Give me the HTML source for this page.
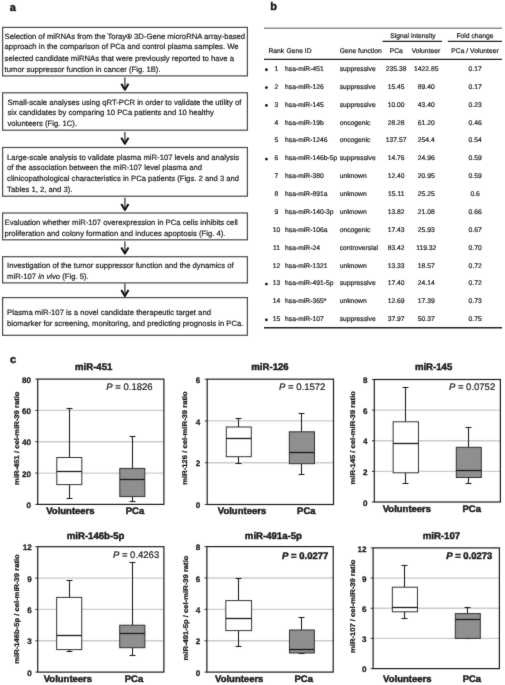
<!DOCTYPE html>
<html><head><meta charset="utf-8"><style>
html,body{margin:0;padding:0;background:#fff;}
svg{display:block;font-family:"Liberation Sans", sans-serif;will-change:transform;text-rendering:geometricPrecision;}
text{stroke:#1a1a1a;stroke-width:0.2px;paint-order:stroke;}
text[font-weight="bold"]{stroke-width:0.45px;}
text.tk{stroke-width:0.25px;}
text.yl{stroke-width:0.3px;}
</style></head><body>
<svg width="505" height="685" viewBox="0 0 505 685">
<defs><filter id="soft" x="0" y="0" width="100%" height="100%" color-interpolation-filters="sRGB"><feConvolveMatrix order="3" kernelMatrix="0.0188 0.0563 0.0188 0.0563 0.7000 0.0563 0.0188 0.0563 0.0188" divisor="1" edgeMode="duplicate"/></filter></defs><g filter="url(#soft)">
<rect width="505" height="685" fill="#fff"/>
<text x="9.70" y="10.80" font-size="11.0" font-weight="bold" text-anchor="start" fill="#1a1a1a">a</text>
<text x="270.30" y="10.40" font-size="11.0" font-weight="bold" text-anchor="start" fill="#1a1a1a">b</text>
<text x="9.90" y="362.80" font-size="11.0" font-weight="bold" text-anchor="start" fill="#1a1a1a">c</text>
<rect x="2.60" y="27.40" width="244.80" height="48.50" fill="none" stroke="#4a4a4a" stroke-width="1.2"/>
<text x="4.60" y="38.50" font-size="7.7" text-anchor="start" fill="#1a1a1a">Selection of miRNAs from the Toray® 3D-Gene microRNA array-based</text>
<text x="4.60" y="49.40" font-size="7.7" text-anchor="start" fill="#1a1a1a">approach in the comparison of PCa and control plasma samples. We</text>
<text x="4.60" y="60.50" font-size="7.7" text-anchor="start" fill="#1a1a1a">selected candidate miRNAs that were previously reported to have a</text>
<text x="4.60" y="71.60" font-size="7.7" text-anchor="start" fill="#1a1a1a">tumor suppressor function in cancer (Fig. 1B).</text>
<rect x="2.60" y="92.80" width="244.80" height="37.40" fill="none" stroke="#4a4a4a" stroke-width="1.2"/>
<text x="7.40" y="104.60" font-size="7.7" text-anchor="start" fill="#1a1a1a">Small-scale analyses using qRT-PCR in order to validate the utility of</text>
<text x="7.40" y="115.30" font-size="7.7" text-anchor="start" fill="#1a1a1a">six candidates by comparing 10 PCa patients and 10 healthy</text>
<text x="7.40" y="126.10" font-size="7.7" text-anchor="start" fill="#1a1a1a">volunteers (Fig. 1C).</text>
<rect x="2.60" y="147.50" width="244.80" height="48.70" fill="none" stroke="#4a4a4a" stroke-width="1.2"/>
<text x="7.10" y="159.50" font-size="7.7" text-anchor="start" fill="#1a1a1a">Large-scale analysis to validate plasma miR-107 levels and analysis</text>
<text x="7.10" y="170.10" font-size="7.7" text-anchor="start" fill="#1a1a1a">of the association between the miR-107 level plasma and</text>
<text x="7.10" y="180.90" font-size="7.7" text-anchor="start" fill="#1a1a1a">clinicopathological characteristics in PCa patients (Figs. 2 and 3 and</text>
<text x="7.10" y="191.50" font-size="7.7" text-anchor="start" fill="#1a1a1a">Tables 1, 2, and 3).</text>
<rect x="2.60" y="213.00" width="244.80" height="26.80" fill="none" stroke="#4a4a4a" stroke-width="1.2"/>
<text x="4.50" y="225.40" font-size="7.7" text-anchor="start" fill="#1a1a1a">Evaluation whether miR-107 overexpression in PCa cells inhibits cell</text>
<text x="4.50" y="235.80" font-size="7.7" text-anchor="start" fill="#1a1a1a">proliferation and colony formation and induces apoptosis (Fig. 4).</text>
<rect x="2.60" y="256.70" width="244.80" height="26.20" fill="none" stroke="#4a4a4a" stroke-width="1.2"/>
<text x="7.10" y="268.20" font-size="7.7" text-anchor="start" fill="#1a1a1a">Investigation of the tumor suppressor function and the dynamics of</text>
<text x="7.10" y="278.50" font-size="7.7" text-anchor="start" fill="#1a1a1a">miR-107 <tspan font-style="italic">in vivo</tspan> (Fig. 5).</text>
<rect x="2.60" y="297.60" width="244.80" height="37.70" fill="none" stroke="#4a4a4a" stroke-width="1.2"/>
<text x="7.10" y="315.10" font-size="7.7" text-anchor="start" fill="#1a1a1a">Plasma miR-107 is a novel candidate therapeutic target and</text>
<text x="7.10" y="325.70" font-size="7.7" text-anchor="start" fill="#1a1a1a">biomarker for screening, monitoring, and predicting prognosis in PCa.</text>
<line x1="124.90" y1="77.60" x2="124.90" y2="88.70" stroke="#555" stroke-width="1.5"/>
<polyline points="121.30,83.70 124.90,89.70 128.50,83.70" fill="none" stroke="#111" stroke-width="2.0" stroke-linejoin="round" stroke-linecap="butt"/>
<line x1="124.90" y1="131.90" x2="124.90" y2="142.80" stroke="#555" stroke-width="1.5"/>
<polyline points="121.30,137.80 124.90,143.80 128.50,137.80" fill="none" stroke="#111" stroke-width="2.0" stroke-linejoin="round" stroke-linecap="butt"/>
<line x1="124.90" y1="197.80" x2="124.90" y2="209.00" stroke="#555" stroke-width="1.5"/>
<polyline points="121.30,204.00 124.90,210.00 128.50,204.00" fill="none" stroke="#111" stroke-width="2.0" stroke-linejoin="round" stroke-linecap="butt"/>
<line x1="124.90" y1="241.40" x2="124.90" y2="252.50" stroke="#555" stroke-width="1.5"/>
<polyline points="121.30,247.50 124.90,253.50 128.50,247.50" fill="none" stroke="#111" stroke-width="2.0" stroke-linejoin="round" stroke-linecap="butt"/>
<line x1="124.90" y1="283.60" x2="124.90" y2="295.00" stroke="#555" stroke-width="1.5"/>
<polyline points="121.30,290.00 124.90,296.00 128.50,290.00" fill="none" stroke="#111" stroke-width="2.0" stroke-linejoin="round" stroke-linecap="butt"/>
<line x1="264.00" y1="28.20" x2="502.00" y2="28.20" stroke="#555" stroke-width="1.0"/>
<text x="413.00" y="38.00" font-size="6.75" text-anchor="middle" fill="#1a1a1a">Signal intensity</text>
<text x="475.00" y="38.00" font-size="6.75" text-anchor="middle" fill="#1a1a1a">Fold change</text>
<line x1="382.50" y1="41.40" x2="442.00" y2="41.40" stroke="#222" stroke-width="1.2"/>
<line x1="447.80" y1="41.40" x2="502.00" y2="41.40" stroke="#222" stroke-width="1.2"/>
<text x="268.40" y="52.70" font-size="6.75" text-anchor="start" fill="#1a1a1a">Rank</text>
<text x="286.40" y="52.70" font-size="6.75" text-anchor="start" fill="#1a1a1a">Gene ID</text>
<text x="339.70" y="52.70" font-size="6.75" text-anchor="start" fill="#1a1a1a">Gene function</text>
<text x="396.20" y="52.70" font-size="6.75" text-anchor="middle" fill="#1a1a1a">PCa</text>
<text x="426.00" y="52.70" font-size="6.75" text-anchor="middle" fill="#1a1a1a">Volunteer</text>
<text x="475.00" y="52.70" font-size="6.75" text-anchor="middle" fill="#1a1a1a">PCa / Volunteer</text>
<line x1="264.00" y1="59.30" x2="502.00" y2="59.30" stroke="#222" stroke-width="1.3"/>
<circle cx="266.4" cy="69.75" r="1.4" fill="#111"/>
<text x="276.40" y="71.05" font-size="6.75" text-anchor="middle" fill="#1a1a1a">1</text>
<text x="285.00" y="71.05" font-size="6.75" text-anchor="start" fill="#1a1a1a">hsa-miR-451</text>
<text x="339.70" y="71.05" font-size="6.75" text-anchor="start" fill="#1a1a1a">suppressive</text>
<text x="396.20" y="71.05" font-size="6.75" text-anchor="middle" fill="#1a1a1a">235.38</text>
<text x="426.30" y="71.05" font-size="6.75" text-anchor="middle" fill="#1a1a1a">1422.85</text>
<text x="475.10" y="71.05" font-size="6.75" text-anchor="middle" fill="#1a1a1a">0.17</text>
<circle cx="266.4" cy="87.61" r="1.4" fill="#111"/>
<text x="276.40" y="88.91" font-size="6.75" text-anchor="middle" fill="#1a1a1a">2</text>
<text x="285.00" y="88.91" font-size="6.75" text-anchor="start" fill="#1a1a1a">hsa-miR-126</text>
<text x="339.70" y="88.91" font-size="6.75" text-anchor="start" fill="#1a1a1a">suppressive</text>
<text x="396.20" y="88.91" font-size="6.75" text-anchor="middle" fill="#1a1a1a">15.45</text>
<text x="426.30" y="88.91" font-size="6.75" text-anchor="middle" fill="#1a1a1a">89.40</text>
<text x="475.10" y="88.91" font-size="6.75" text-anchor="middle" fill="#1a1a1a">0.17</text>
<circle cx="266.4" cy="105.47" r="1.4" fill="#111"/>
<text x="276.40" y="106.77" font-size="6.75" text-anchor="middle" fill="#1a1a1a">3</text>
<text x="285.00" y="106.77" font-size="6.75" text-anchor="start" fill="#1a1a1a">hsa-miR-145</text>
<text x="339.70" y="106.77" font-size="6.75" text-anchor="start" fill="#1a1a1a">suppressive</text>
<text x="396.20" y="106.77" font-size="6.75" text-anchor="middle" fill="#1a1a1a">10.00</text>
<text x="426.30" y="106.77" font-size="6.75" text-anchor="middle" fill="#1a1a1a">43.40</text>
<text x="475.10" y="106.77" font-size="6.75" text-anchor="middle" fill="#1a1a1a">0.23</text>
<text x="276.40" y="124.63" font-size="6.75" text-anchor="middle" fill="#1a1a1a">4</text>
<text x="285.00" y="124.63" font-size="6.75" text-anchor="start" fill="#1a1a1a">hsa-miR-19b</text>
<text x="339.70" y="124.63" font-size="6.75" text-anchor="start" fill="#1a1a1a">oncogenic</text>
<text x="396.20" y="124.63" font-size="6.75" text-anchor="middle" fill="#1a1a1a">28.28</text>
<text x="426.30" y="124.63" font-size="6.75" text-anchor="middle" fill="#1a1a1a">61.20</text>
<text x="475.10" y="124.63" font-size="6.75" text-anchor="middle" fill="#1a1a1a">0.46</text>
<text x="276.40" y="142.49" font-size="6.75" text-anchor="middle" fill="#1a1a1a">5</text>
<text x="285.00" y="142.49" font-size="6.75" text-anchor="start" fill="#1a1a1a">hsa-miR-1246</text>
<text x="339.70" y="142.49" font-size="6.75" text-anchor="start" fill="#1a1a1a">oncogenic</text>
<text x="396.20" y="142.49" font-size="6.75" text-anchor="middle" fill="#1a1a1a">137.57</text>
<text x="426.30" y="142.49" font-size="6.75" text-anchor="middle" fill="#1a1a1a">254.4</text>
<text x="475.10" y="142.49" font-size="6.75" text-anchor="middle" fill="#1a1a1a">0.54</text>
<circle cx="266.4" cy="159.05" r="1.4" fill="#111"/>
<text x="276.40" y="160.35" font-size="6.75" text-anchor="middle" fill="#1a1a1a">6</text>
<text x="285.00" y="160.35" font-size="6.75" text-anchor="start" fill="#1a1a1a">hsa-miR-146b-5p</text>
<text x="339.70" y="160.35" font-size="6.75" text-anchor="start" fill="#1a1a1a">suppressive</text>
<text x="396.20" y="160.35" font-size="6.75" text-anchor="middle" fill="#1a1a1a">14.76</text>
<text x="426.30" y="160.35" font-size="6.75" text-anchor="middle" fill="#1a1a1a">24.96</text>
<text x="475.10" y="160.35" font-size="6.75" text-anchor="middle" fill="#1a1a1a">0.59</text>
<text x="276.40" y="178.21" font-size="6.75" text-anchor="middle" fill="#1a1a1a">7</text>
<text x="285.00" y="178.21" font-size="6.75" text-anchor="start" fill="#1a1a1a">hsa-miR-380</text>
<text x="339.70" y="178.21" font-size="6.75" text-anchor="start" fill="#1a1a1a">unknown</text>
<text x="396.20" y="178.21" font-size="6.75" text-anchor="middle" fill="#1a1a1a">12.40</text>
<text x="426.30" y="178.21" font-size="6.75" text-anchor="middle" fill="#1a1a1a">20.95</text>
<text x="475.10" y="178.21" font-size="6.75" text-anchor="middle" fill="#1a1a1a">0.59</text>
<text x="276.40" y="196.07" font-size="6.75" text-anchor="middle" fill="#1a1a1a">8</text>
<text x="285.00" y="196.07" font-size="6.75" text-anchor="start" fill="#1a1a1a">hsa-miR-891a</text>
<text x="339.70" y="196.07" font-size="6.75" text-anchor="start" fill="#1a1a1a">unknown</text>
<text x="396.20" y="196.07" font-size="6.75" text-anchor="middle" fill="#1a1a1a">15.11</text>
<text x="426.30" y="196.07" font-size="6.75" text-anchor="middle" fill="#1a1a1a">25.25</text>
<text x="475.10" y="196.07" font-size="6.75" text-anchor="middle" fill="#1a1a1a">0.6</text>
<text x="276.40" y="213.93" font-size="6.75" text-anchor="middle" fill="#1a1a1a">9</text>
<text x="285.00" y="213.93" font-size="6.75" text-anchor="start" fill="#1a1a1a">hsa-miR-140-3p</text>
<text x="339.70" y="213.93" font-size="6.75" text-anchor="start" fill="#1a1a1a">unknown</text>
<text x="396.20" y="213.93" font-size="6.75" text-anchor="middle" fill="#1a1a1a">13.82</text>
<text x="426.30" y="213.93" font-size="6.75" text-anchor="middle" fill="#1a1a1a">21.08</text>
<text x="475.10" y="213.93" font-size="6.75" text-anchor="middle" fill="#1a1a1a">0.66</text>
<text x="276.40" y="231.79" font-size="6.75" text-anchor="middle" fill="#1a1a1a">10</text>
<text x="285.00" y="231.79" font-size="6.75" text-anchor="start" fill="#1a1a1a">hsa-miR-106a</text>
<text x="339.70" y="231.79" font-size="6.75" text-anchor="start" fill="#1a1a1a">oncogenic</text>
<text x="396.20" y="231.79" font-size="6.75" text-anchor="middle" fill="#1a1a1a">17.43</text>
<text x="426.30" y="231.79" font-size="6.75" text-anchor="middle" fill="#1a1a1a">25.93</text>
<text x="475.10" y="231.79" font-size="6.75" text-anchor="middle" fill="#1a1a1a">0.67</text>
<text x="276.40" y="249.65" font-size="6.75" text-anchor="middle" fill="#1a1a1a">11</text>
<text x="285.00" y="249.65" font-size="6.75" text-anchor="start" fill="#1a1a1a">hsa-miR-24</text>
<text x="339.70" y="249.65" font-size="6.75" text-anchor="start" fill="#1a1a1a">controversial</text>
<text x="396.20" y="249.65" font-size="6.75" text-anchor="middle" fill="#1a1a1a">83.42</text>
<text x="426.30" y="249.65" font-size="6.75" text-anchor="middle" fill="#1a1a1a">119.32</text>
<text x="475.10" y="249.65" font-size="6.75" text-anchor="middle" fill="#1a1a1a">0.70</text>
<text x="276.40" y="267.51" font-size="6.75" text-anchor="middle" fill="#1a1a1a">12</text>
<text x="285.00" y="267.51" font-size="6.75" text-anchor="start" fill="#1a1a1a">hsa-miR-1321</text>
<text x="339.70" y="267.51" font-size="6.75" text-anchor="start" fill="#1a1a1a">unknown</text>
<text x="396.20" y="267.51" font-size="6.75" text-anchor="middle" fill="#1a1a1a">13.33</text>
<text x="426.30" y="267.51" font-size="6.75" text-anchor="middle" fill="#1a1a1a">18.57</text>
<text x="475.10" y="267.51" font-size="6.75" text-anchor="middle" fill="#1a1a1a">0.72</text>
<circle cx="266.4" cy="284.07" r="1.4" fill="#111"/>
<text x="276.40" y="285.37" font-size="6.75" text-anchor="middle" fill="#1a1a1a">13</text>
<text x="285.00" y="285.37" font-size="6.75" text-anchor="start" fill="#1a1a1a">hsa-miR-491-5p</text>
<text x="339.70" y="285.37" font-size="6.75" text-anchor="start" fill="#1a1a1a">suppressive</text>
<text x="396.20" y="285.37" font-size="6.75" text-anchor="middle" fill="#1a1a1a">17.40</text>
<text x="426.30" y="285.37" font-size="6.75" text-anchor="middle" fill="#1a1a1a">24.14</text>
<text x="475.10" y="285.37" font-size="6.75" text-anchor="middle" fill="#1a1a1a">0.72</text>
<text x="276.40" y="303.23" font-size="6.75" text-anchor="middle" fill="#1a1a1a">14</text>
<text x="285.00" y="303.23" font-size="6.75" text-anchor="start" fill="#1a1a1a">hsa-miR-365*</text>
<text x="339.70" y="303.23" font-size="6.75" text-anchor="start" fill="#1a1a1a">unknown</text>
<text x="396.20" y="303.23" font-size="6.75" text-anchor="middle" fill="#1a1a1a">12.69</text>
<text x="426.30" y="303.23" font-size="6.75" text-anchor="middle" fill="#1a1a1a">17.39</text>
<text x="475.10" y="303.23" font-size="6.75" text-anchor="middle" fill="#1a1a1a">0.73</text>
<circle cx="266.4" cy="319.79" r="1.4" fill="#111"/>
<text x="276.40" y="321.09" font-size="6.75" text-anchor="middle" fill="#1a1a1a">15</text>
<text x="285.00" y="321.09" font-size="6.75" text-anchor="start" fill="#1a1a1a">hsa-miR-107</text>
<text x="339.70" y="321.09" font-size="6.75" text-anchor="start" fill="#1a1a1a">suppressive</text>
<text x="396.20" y="321.09" font-size="6.75" text-anchor="middle" fill="#1a1a1a">37.97</text>
<text x="426.30" y="321.09" font-size="6.75" text-anchor="middle" fill="#1a1a1a">50.37</text>
<text x="475.10" y="321.09" font-size="6.75" text-anchor="middle" fill="#1a1a1a">0.75</text>
<line x1="264.00" y1="327.70" x2="502.00" y2="327.70" stroke="#222" stroke-width="1.4"/>
<line x1="37.70" y1="473.07" x2="163.90" y2="473.07" stroke="#cbcbcb" stroke-width="1.3"/>
<line x1="37.70" y1="441.75" x2="163.90" y2="441.75" stroke="#cbcbcb" stroke-width="1.3"/>
<line x1="37.70" y1="410.43" x2="163.90" y2="410.43" stroke="#cbcbcb" stroke-width="1.3"/>
<line x1="35.30" y1="504.40" x2="37.70" y2="504.40" stroke="#333" stroke-width="1.0"/>
<text x="31.00" y="508.05" font-size="8.1" font-weight="bold" text-anchor="end" fill="#1a1a1a" class="tk">0</text>
<line x1="35.30" y1="473.07" x2="37.70" y2="473.07" stroke="#333" stroke-width="1.0"/>
<text x="31.00" y="476.72" font-size="8.1" font-weight="bold" text-anchor="end" fill="#1a1a1a" class="tk">20</text>
<line x1="35.30" y1="441.75" x2="37.70" y2="441.75" stroke="#333" stroke-width="1.0"/>
<text x="31.00" y="445.40" font-size="8.1" font-weight="bold" text-anchor="end" fill="#1a1a1a" class="tk">40</text>
<line x1="35.30" y1="410.43" x2="37.70" y2="410.43" stroke="#333" stroke-width="1.0"/>
<text x="31.00" y="414.07" font-size="8.1" font-weight="bold" text-anchor="end" fill="#1a1a1a" class="tk">60</text>
<line x1="35.30" y1="379.10" x2="37.70" y2="379.10" stroke="#333" stroke-width="1.0"/>
<text x="31.00" y="382.75" font-size="8.1" font-weight="bold" text-anchor="end" fill="#1a1a1a" class="tk">80</text>
<line x1="69.50" y1="408.50" x2="69.50" y2="457.50" stroke="#222" stroke-width="1.1"/>
<line x1="69.50" y1="484.60" x2="69.50" y2="498.50" stroke="#222" stroke-width="1.1"/>
<line x1="66.50" y1="408.50" x2="72.50" y2="408.50" stroke="#222" stroke-width="1.1"/>
<line x1="66.50" y1="498.50" x2="72.50" y2="498.50" stroke="#222" stroke-width="1.1"/>
<rect x="56.80" y="457.50" width="25.00" height="27.10" fill="#ffffff" stroke="#333" stroke-width="1.0"/>
<line x1="56.80" y1="471.50" x2="81.80" y2="471.50" stroke="#1a1a1a" stroke-width="1.3"/>
<line x1="132.50" y1="436.50" x2="132.50" y2="468.40" stroke="#222" stroke-width="1.1"/>
<line x1="132.50" y1="496.60" x2="132.50" y2="501.50" stroke="#222" stroke-width="1.1"/>
<line x1="129.50" y1="436.50" x2="135.50" y2="436.50" stroke="#222" stroke-width="1.1"/>
<line x1="129.50" y1="501.50" x2="135.50" y2="501.50" stroke="#222" stroke-width="1.1"/>
<rect x="119.80" y="468.40" width="25.00" height="28.20" fill="#8f8f8f" stroke="#333" stroke-width="1.0"/>
<line x1="119.80" y1="479.50" x2="144.80" y2="479.50" stroke="#1a1a1a" stroke-width="1.3"/>
<rect x="37.70" y="379.10" width="126.20" height="125.30" fill="none" stroke="#1c1c1c" stroke-width="1.2"/>
<text x="93.70" y="369.80" font-size="9.6" font-weight="bold" text-anchor="middle" fill="#1a1a1a">miR-451</text>
<text class="yl" x="0" y="0" font-size="7.65" font-weight="bold" text-anchor="middle" fill="#1a1a1a" transform="translate(19.40,438.20) rotate(-90) scale(1,0.9)">miR-451 / cel-miR-39 ratio</text>
<text x="152.60" y="390.10" font-size="9.5" text-anchor="end" fill="#1a1a1a"><tspan font-style="italic">P</tspan> = 0.1826</text>
<text x="70.40" y="513.60" font-size="9.5" font-weight="bold" text-anchor="middle" fill="#1a1a1a">Volunteers</text>
<text x="135.00" y="513.60" font-size="9.5" font-weight="bold" text-anchor="middle" fill="#1a1a1a">PCa</text>
<line x1="207.20" y1="462.73" x2="333.50" y2="462.73" stroke="#cbcbcb" stroke-width="1.3"/>
<line x1="207.20" y1="420.97" x2="333.50" y2="420.97" stroke="#cbcbcb" stroke-width="1.3"/>
<line x1="204.80" y1="504.50" x2="207.20" y2="504.50" stroke="#333" stroke-width="1.0"/>
<text x="200.20" y="508.15" font-size="8.1" font-weight="bold" text-anchor="end" fill="#1a1a1a" class="tk">0</text>
<line x1="204.80" y1="462.73" x2="207.20" y2="462.73" stroke="#333" stroke-width="1.0"/>
<text x="200.20" y="466.38" font-size="8.1" font-weight="bold" text-anchor="end" fill="#1a1a1a" class="tk">2</text>
<line x1="204.80" y1="420.97" x2="207.20" y2="420.97" stroke="#333" stroke-width="1.0"/>
<text x="200.20" y="424.62" font-size="8.1" font-weight="bold" text-anchor="end" fill="#1a1a1a" class="tk">4</text>
<line x1="204.80" y1="379.20" x2="207.20" y2="379.20" stroke="#333" stroke-width="1.0"/>
<text x="200.20" y="382.85" font-size="8.1" font-weight="bold" text-anchor="end" fill="#1a1a1a" class="tk">6</text>
<line x1="238.50" y1="418.50" x2="238.50" y2="427.00" stroke="#222" stroke-width="1.1"/>
<line x1="238.50" y1="456.70" x2="238.50" y2="463.50" stroke="#222" stroke-width="1.1"/>
<line x1="235.50" y1="418.50" x2="241.50" y2="418.50" stroke="#222" stroke-width="1.1"/>
<line x1="235.50" y1="463.50" x2="241.50" y2="463.50" stroke="#222" stroke-width="1.1"/>
<rect x="226.30" y="427.00" width="25.00" height="29.70" fill="#ffffff" stroke="#333" stroke-width="1.0"/>
<line x1="226.30" y1="438.50" x2="251.30" y2="438.50" stroke="#1a1a1a" stroke-width="1.3"/>
<line x1="301.50" y1="413.50" x2="301.50" y2="431.80" stroke="#222" stroke-width="1.1"/>
<line x1="301.50" y1="463.70" x2="301.50" y2="474.50" stroke="#222" stroke-width="1.1"/>
<line x1="298.50" y1="413.50" x2="304.50" y2="413.50" stroke="#222" stroke-width="1.1"/>
<line x1="298.50" y1="474.50" x2="304.50" y2="474.50" stroke="#222" stroke-width="1.1"/>
<rect x="289.30" y="431.80" width="25.20" height="31.90" fill="#8f8f8f" stroke="#333" stroke-width="1.0"/>
<line x1="289.30" y1="452.50" x2="314.50" y2="452.50" stroke="#1a1a1a" stroke-width="1.3"/>
<rect x="207.20" y="379.20" width="126.30" height="125.30" fill="none" stroke="#1c1c1c" stroke-width="1.2"/>
<text x="270.00" y="369.70" font-size="9.6" font-weight="bold" text-anchor="middle" fill="#1a1a1a">miR-126</text>
<text class="yl" x="0" y="0" font-size="7.65" font-weight="bold" text-anchor="middle" fill="#1a1a1a" transform="translate(187.40,438.00) rotate(-90) scale(1,0.9)">miR-126 / cel-miR-39 ratio</text>
<text x="325.30" y="390.20" font-size="9.5" text-anchor="end" fill="#1a1a1a"><tspan font-style="italic">P</tspan> = 0.1572</text>
<text x="242.00" y="513.60" font-size="9.5" font-weight="bold" text-anchor="middle" fill="#1a1a1a">Volunteers</text>
<text x="306.30" y="513.60" font-size="9.5" font-weight="bold" text-anchor="middle" fill="#1a1a1a">PCa</text>
<line x1="374.30" y1="471.38" x2="500.40" y2="471.38" stroke="#cbcbcb" stroke-width="1.3"/>
<line x1="374.30" y1="440.75" x2="500.40" y2="440.75" stroke="#cbcbcb" stroke-width="1.3"/>
<line x1="374.30" y1="410.12" x2="500.40" y2="410.12" stroke="#cbcbcb" stroke-width="1.3"/>
<line x1="371.90" y1="502.00" x2="374.30" y2="502.00" stroke="#333" stroke-width="1.0"/>
<text x="367.40" y="505.65" font-size="8.1" font-weight="bold" text-anchor="end" fill="#1a1a1a" class="tk">0</text>
<line x1="371.90" y1="471.38" x2="374.30" y2="471.38" stroke="#333" stroke-width="1.0"/>
<text x="367.40" y="475.02" font-size="8.1" font-weight="bold" text-anchor="end" fill="#1a1a1a" class="tk">2</text>
<line x1="371.90" y1="440.75" x2="374.30" y2="440.75" stroke="#333" stroke-width="1.0"/>
<text x="367.40" y="444.40" font-size="8.1" font-weight="bold" text-anchor="end" fill="#1a1a1a" class="tk">4</text>
<line x1="371.90" y1="410.12" x2="374.30" y2="410.12" stroke="#333" stroke-width="1.0"/>
<text x="367.40" y="413.77" font-size="8.1" font-weight="bold" text-anchor="end" fill="#1a1a1a" class="tk">6</text>
<line x1="371.90" y1="379.50" x2="374.30" y2="379.50" stroke="#333" stroke-width="1.0"/>
<text x="367.40" y="383.15" font-size="8.1" font-weight="bold" text-anchor="end" fill="#1a1a1a" class="tk">8</text>
<line x1="405.50" y1="387.50" x2="405.50" y2="421.80" stroke="#222" stroke-width="1.1"/>
<line x1="405.50" y1="472.80" x2="405.50" y2="483.50" stroke="#222" stroke-width="1.1"/>
<line x1="402.50" y1="387.50" x2="408.50" y2="387.50" stroke="#222" stroke-width="1.1"/>
<line x1="402.50" y1="483.50" x2="408.50" y2="483.50" stroke="#222" stroke-width="1.1"/>
<rect x="393.15" y="421.80" width="25.30" height="51.00" fill="#ffffff" stroke="#333" stroke-width="1.0"/>
<line x1="393.15" y1="443.50" x2="418.45" y2="443.50" stroke="#1a1a1a" stroke-width="1.3"/>
<line x1="468.50" y1="427.50" x2="468.50" y2="447.30" stroke="#222" stroke-width="1.1"/>
<line x1="468.50" y1="477.50" x2="468.50" y2="483.50" stroke="#222" stroke-width="1.1"/>
<line x1="465.50" y1="427.50" x2="471.50" y2="427.50" stroke="#222" stroke-width="1.1"/>
<line x1="465.50" y1="483.50" x2="471.50" y2="483.50" stroke="#222" stroke-width="1.1"/>
<rect x="456.30" y="447.30" width="25.00" height="30.20" fill="#8f8f8f" stroke="#333" stroke-width="1.0"/>
<line x1="456.30" y1="470.50" x2="481.30" y2="470.50" stroke="#1a1a1a" stroke-width="1.3"/>
<rect x="374.30" y="379.50" width="126.10" height="122.50" fill="none" stroke="#1c1c1c" stroke-width="1.2"/>
<text x="433.60" y="369.50" font-size="9.6" font-weight="bold" text-anchor="middle" fill="#1a1a1a">miR-145</text>
<text class="yl" x="0" y="0" font-size="7.65" font-weight="bold" text-anchor="middle" fill="#1a1a1a" transform="translate(355.20,437.80) rotate(-90) scale(1,0.9)">miR-145 / cel-miR-39 ratio</text>
<text x="495.20" y="389.90" font-size="9.5" text-anchor="end" fill="#1a1a1a"><tspan font-style="italic">P</tspan> = 0.0752</text>
<text x="406.90" y="511.60" font-size="9.5" font-weight="bold" text-anchor="middle" fill="#1a1a1a">Volunteers</text>
<text x="471.70" y="511.60" font-size="9.5" font-weight="bold" text-anchor="middle" fill="#1a1a1a">PCa</text>
<line x1="37.70" y1="640.75" x2="163.90" y2="640.75" stroke="#cbcbcb" stroke-width="1.3"/>
<line x1="37.70" y1="609.40" x2="163.90" y2="609.40" stroke="#cbcbcb" stroke-width="1.3"/>
<line x1="37.70" y1="578.05" x2="163.90" y2="578.05" stroke="#cbcbcb" stroke-width="1.3"/>
<line x1="35.30" y1="672.10" x2="37.70" y2="672.10" stroke="#333" stroke-width="1.0"/>
<text x="31.80" y="675.75" font-size="8.1" font-weight="bold" text-anchor="end" fill="#1a1a1a" class="tk">0</text>
<line x1="35.30" y1="640.75" x2="37.70" y2="640.75" stroke="#333" stroke-width="1.0"/>
<text x="31.80" y="644.40" font-size="8.1" font-weight="bold" text-anchor="end" fill="#1a1a1a" class="tk">3</text>
<line x1="35.30" y1="609.40" x2="37.70" y2="609.40" stroke="#333" stroke-width="1.0"/>
<text x="31.80" y="613.05" font-size="8.1" font-weight="bold" text-anchor="end" fill="#1a1a1a" class="tk">6</text>
<line x1="35.30" y1="578.05" x2="37.70" y2="578.05" stroke="#333" stroke-width="1.0"/>
<text x="31.80" y="581.70" font-size="8.1" font-weight="bold" text-anchor="end" fill="#1a1a1a" class="tk">9</text>
<line x1="35.30" y1="546.70" x2="37.70" y2="546.70" stroke="#333" stroke-width="1.0"/>
<text x="31.80" y="550.35" font-size="8.1" font-weight="bold" text-anchor="end" fill="#1a1a1a" class="tk">12</text>
<line x1="69.50" y1="580.50" x2="69.50" y2="597.40" stroke="#222" stroke-width="1.1"/>
<line x1="69.50" y1="649.60" x2="69.50" y2="651.50" stroke="#222" stroke-width="1.1"/>
<line x1="66.50" y1="580.50" x2="72.50" y2="580.50" stroke="#222" stroke-width="1.1"/>
<line x1="66.50" y1="651.50" x2="72.50" y2="651.50" stroke="#222" stroke-width="1.1"/>
<rect x="56.65" y="597.40" width="25.10" height="52.20" fill="#ffffff" stroke="#333" stroke-width="1.0"/>
<line x1="56.65" y1="635.50" x2="81.75" y2="635.50" stroke="#1a1a1a" stroke-width="1.3"/>
<line x1="132.50" y1="562.50" x2="132.50" y2="625.20" stroke="#222" stroke-width="1.1"/>
<line x1="132.50" y1="647.70" x2="132.50" y2="655.50" stroke="#222" stroke-width="1.1"/>
<line x1="129.50" y1="562.50" x2="135.50" y2="562.50" stroke="#222" stroke-width="1.1"/>
<line x1="129.50" y1="655.50" x2="135.50" y2="655.50" stroke="#222" stroke-width="1.1"/>
<rect x="119.70" y="625.20" width="25.20" height="22.50" fill="#8f8f8f" stroke="#333" stroke-width="1.0"/>
<line x1="119.70" y1="633.50" x2="144.90" y2="633.50" stroke="#1a1a1a" stroke-width="1.3"/>
<rect x="37.70" y="546.70" width="126.20" height="125.40" fill="none" stroke="#1c1c1c" stroke-width="1.2"/>
<text x="95.60" y="539.00" font-size="9.6" font-weight="bold" text-anchor="middle" fill="#1a1a1a">miR-146b-5p</text>
<text class="yl" x="0" y="0" font-size="7.65" font-weight="bold" text-anchor="middle" fill="#1a1a1a" transform="translate(19.40,609.00) rotate(-90) scale(1,0.9)">miR-146b-5p / cel-miR-39 ratio</text>
<text x="159.20" y="558.10" font-size="9.5" text-anchor="end" fill="#1a1a1a"><tspan font-style="italic">P</tspan> = 0.4263</text>
<text x="67.90" y="681.90" font-size="9.5" font-weight="bold" text-anchor="middle" fill="#1a1a1a">Volunteers</text>
<text x="134.00" y="681.90" font-size="9.5" font-weight="bold" text-anchor="middle" fill="#1a1a1a">PCa</text>
<line x1="206.90" y1="640.73" x2="333.20" y2="640.73" stroke="#cbcbcb" stroke-width="1.3"/>
<line x1="206.90" y1="609.35" x2="333.20" y2="609.35" stroke="#cbcbcb" stroke-width="1.3"/>
<line x1="206.90" y1="577.98" x2="333.20" y2="577.98" stroke="#cbcbcb" stroke-width="1.3"/>
<line x1="204.50" y1="672.10" x2="206.90" y2="672.10" stroke="#333" stroke-width="1.0"/>
<text x="200.30" y="675.75" font-size="8.1" font-weight="bold" text-anchor="end" fill="#1a1a1a" class="tk">0</text>
<line x1="204.50" y1="640.73" x2="206.90" y2="640.73" stroke="#333" stroke-width="1.0"/>
<text x="200.30" y="644.38" font-size="8.1" font-weight="bold" text-anchor="end" fill="#1a1a1a" class="tk">2</text>
<line x1="204.50" y1="609.35" x2="206.90" y2="609.35" stroke="#333" stroke-width="1.0"/>
<text x="200.30" y="613.00" font-size="8.1" font-weight="bold" text-anchor="end" fill="#1a1a1a" class="tk">4</text>
<line x1="204.50" y1="577.98" x2="206.90" y2="577.98" stroke="#333" stroke-width="1.0"/>
<text x="200.30" y="581.62" font-size="8.1" font-weight="bold" text-anchor="end" fill="#1a1a1a" class="tk">6</text>
<line x1="204.50" y1="546.60" x2="206.90" y2="546.60" stroke="#333" stroke-width="1.0"/>
<text x="200.30" y="550.25" font-size="8.1" font-weight="bold" text-anchor="end" fill="#1a1a1a" class="tk">8</text>
<line x1="238.50" y1="578.50" x2="238.50" y2="600.60" stroke="#222" stroke-width="1.1"/>
<line x1="238.50" y1="630.60" x2="238.50" y2="646.50" stroke="#222" stroke-width="1.1"/>
<line x1="235.50" y1="578.50" x2="241.50" y2="578.50" stroke="#222" stroke-width="1.1"/>
<line x1="235.50" y1="646.50" x2="241.50" y2="646.50" stroke="#222" stroke-width="1.1"/>
<rect x="225.80" y="600.60" width="25.80" height="30.00" fill="#ffffff" stroke="#333" stroke-width="1.0"/>
<line x1="225.80" y1="618.50" x2="251.60" y2="618.50" stroke="#1a1a1a" stroke-width="1.3"/>
<line x1="301.50" y1="617.50" x2="301.50" y2="630.00" stroke="#222" stroke-width="1.1"/>
<line x1="301.50" y1="653.00" x2="301.50" y2="653.50" stroke="#222" stroke-width="1.1"/>
<line x1="298.50" y1="617.50" x2="304.50" y2="617.50" stroke="#222" stroke-width="1.1"/>
<line x1="298.50" y1="653.50" x2="304.50" y2="653.50" stroke="#222" stroke-width="1.1"/>
<rect x="289.45" y="630.00" width="24.90" height="23.00" fill="#8f8f8f" stroke="#333" stroke-width="1.0"/>
<line x1="289.45" y1="649.50" x2="314.35" y2="649.50" stroke="#1a1a1a" stroke-width="1.3"/>
<rect x="206.90" y="546.60" width="126.30" height="125.50" fill="none" stroke="#1c1c1c" stroke-width="1.2"/>
<text x="273.40" y="539.00" font-size="9.6" font-weight="bold" text-anchor="middle" fill="#1a1a1a">miR-491a-5p</text>
<text class="yl" x="0" y="0" font-size="7.65" font-weight="bold" text-anchor="middle" fill="#1a1a1a" transform="translate(188.00,608.00) rotate(-90) scale(1,0.9)">miR-491-5p / cel-miR-39 ratio</text>
<text x="328.30" y="558.60" font-size="9.5" font-weight="bold" text-anchor="end" fill="#1a1a1a"><tspan font-style="italic">P</tspan> = 0.0277</text>
<text x="239.20" y="682.00" font-size="9.5" font-weight="bold" text-anchor="middle" fill="#1a1a1a">Volunteers</text>
<text x="303.70" y="682.00" font-size="9.5" font-weight="bold" text-anchor="middle" fill="#1a1a1a">PCa</text>
<line x1="373.10" y1="638.42" x2="499.40" y2="638.42" stroke="#cbcbcb" stroke-width="1.3"/>
<line x1="373.10" y1="608.25" x2="499.40" y2="608.25" stroke="#cbcbcb" stroke-width="1.3"/>
<line x1="373.10" y1="578.08" x2="499.40" y2="578.08" stroke="#cbcbcb" stroke-width="1.3"/>
<line x1="370.70" y1="668.60" x2="373.10" y2="668.60" stroke="#333" stroke-width="1.0"/>
<text x="366.50" y="672.25" font-size="8.1" font-weight="bold" text-anchor="end" fill="#1a1a1a" class="tk">0</text>
<line x1="370.70" y1="638.42" x2="373.10" y2="638.42" stroke="#333" stroke-width="1.0"/>
<text x="366.50" y="642.07" font-size="8.1" font-weight="bold" text-anchor="end" fill="#1a1a1a" class="tk">3</text>
<line x1="370.70" y1="608.25" x2="373.10" y2="608.25" stroke="#333" stroke-width="1.0"/>
<text x="366.50" y="611.90" font-size="8.1" font-weight="bold" text-anchor="end" fill="#1a1a1a" class="tk">6</text>
<line x1="370.70" y1="578.08" x2="373.10" y2="578.08" stroke="#333" stroke-width="1.0"/>
<text x="366.50" y="581.73" font-size="8.1" font-weight="bold" text-anchor="end" fill="#1a1a1a" class="tk">9</text>
<line x1="370.70" y1="547.90" x2="373.10" y2="547.90" stroke="#333" stroke-width="1.0"/>
<text x="366.50" y="551.55" font-size="8.1" font-weight="bold" text-anchor="end" fill="#1a1a1a" class="tk">12</text>
<line x1="404.50" y1="565.50" x2="404.50" y2="587.20" stroke="#222" stroke-width="1.1"/>
<line x1="404.50" y1="611.80" x2="404.50" y2="618.50" stroke="#222" stroke-width="1.1"/>
<line x1="401.50" y1="565.50" x2="407.50" y2="565.50" stroke="#222" stroke-width="1.1"/>
<line x1="401.50" y1="618.50" x2="407.50" y2="618.50" stroke="#222" stroke-width="1.1"/>
<rect x="392.35" y="587.20" width="25.10" height="24.60" fill="#ffffff" stroke="#333" stroke-width="1.0"/>
<line x1="392.35" y1="607.50" x2="417.45" y2="607.50" stroke="#1a1a1a" stroke-width="1.3"/>
<line x1="467.50" y1="607.50" x2="467.50" y2="613.60" stroke="#222" stroke-width="1.1"/>
<line x1="467.50" y1="638.40" x2="467.50" y2="638.50" stroke="#222" stroke-width="1.1"/>
<line x1="464.50" y1="607.50" x2="470.50" y2="607.50" stroke="#222" stroke-width="1.1"/>
<line x1="464.50" y1="638.50" x2="470.50" y2="638.50" stroke="#222" stroke-width="1.1"/>
<rect x="455.30" y="613.60" width="25.00" height="24.80" fill="#8f8f8f" stroke="#333" stroke-width="1.0"/>
<line x1="455.30" y1="619.50" x2="480.30" y2="619.50" stroke="#1a1a1a" stroke-width="1.3"/>
<rect x="373.10" y="547.90" width="126.30" height="120.70" fill="none" stroke="#1c1c1c" stroke-width="1.2"/>
<text x="441.40" y="539.00" font-size="9.6" font-weight="bold" text-anchor="middle" fill="#1a1a1a">miR-107</text>
<text class="yl" x="0" y="0" font-size="7.65" font-weight="bold" text-anchor="middle" fill="#1a1a1a" transform="translate(354.70,606.30) rotate(-90) scale(1,0.9)">miR-107 / cel-miR-39 ratio</text>
<text x="492.40" y="558.60" font-size="9.5" font-weight="bold" text-anchor="end" fill="#1a1a1a"><tspan font-style="italic">P</tspan> = 0.0273</text>
<text x="407.30" y="682.00" font-size="9.5" font-weight="bold" text-anchor="middle" fill="#1a1a1a">Volunteers</text>
<text x="471.90" y="682.00" font-size="9.5" font-weight="bold" text-anchor="middle" fill="#1a1a1a">PCa</text>
</g>
</svg>
</body></html>
